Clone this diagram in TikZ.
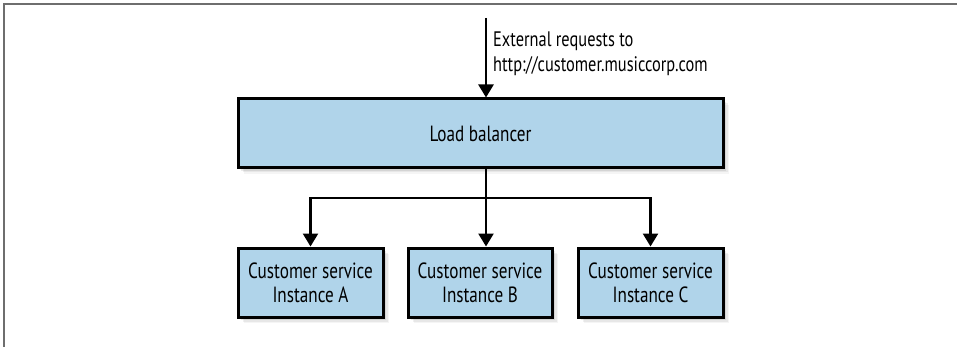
\documentclass[tikz,border=0pt]{standalone}
\usepackage{fontspec}
\setmainfont[FakeStretch=0.78]{PT Sans}
\usetikzlibrary{arrows.meta,shadows,calc}
\definecolor{boxblue}{RGB}{176,212,234}
\definecolor{framegray}{RGB}{110,110,110}
\tikzset{
  softshadow/.style={
    general shadow={fill=black,opacity=0.10,shadow xshift=1.5pt,shadow yshift=-1.5pt},
    general shadow={fill=black,opacity=0.08,shadow xshift=3pt,shadow yshift=-3pt},
    general shadow={fill=black,opacity=0.06,shadow xshift=4.5pt,shadow yshift=-4.5pt},
    general shadow={fill=black,opacity=0.04,shadow xshift=6pt,shadow yshift=-6pt}},
  box/.style={draw=black,line width=3pt,fill=boxblue,softshadow,
    inner sep=0pt,align=center,font=\fontsize{22}{24}\selectfont},
  arr/.style={line width=2.5pt,-{Triangle[length=13pt,width=15pt]}},
  lbl/.style={inner sep=0pt,align=left,font=\fontsize{21}{25}\selectfont}
}
\begin{document}
\begin{tikzpicture}[x=1pt,y=-1pt]
\useasboundingbox (0,0) rectangle (957,347);
\draw[framegray,line width=2pt] (4,347) -- (4,4) -- (957,4);
\node[box,minimum width=485pt,minimum height=69pt] (lb) at (480.5,133.5) {Load balancer};
\node[box,minimum width=145pt,minimum height=69pt] (a) at (310.5,282.5) {Customer service\\Instance A};
\node[box,minimum width=144pt,minimum height=69pt] (b) at (480,282.5) {Customer service\\Instance B};
\node[box,minimum width=145pt,minimum height=69pt] (c) at (650.5,282.5) {Customer service\\Instance C};
\coordinate (ext) at (486,18);
\coordinate (split) at (486,198);
\node[lbl,anchor=base west] (req) at (493,72) {External requests to\\http://customer.musiccorp.com};
\draw[arr] (ext) -- (ext |- lb.north);
\draw[arr] (split) -| (a.north);
\draw[arr] (split) -| (c.north);
\draw[arr] (lb.south -| split) -- (b.north -| split);
\end{tikzpicture}
\end{document}
